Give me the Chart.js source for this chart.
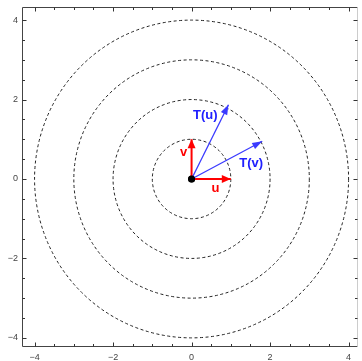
<!DOCTYPE html>
<html>
<head>
<meta charset="utf-8">
<script src="https://cdn.jsdelivr.net/npm/chart.js@4"></script>
<style>
  html, body { margin: 0; padding: 0; background: #fff; }
  #c { display: block; }
</style>
</head>
<body>
<canvas id="c" width="362" height="361"></canvas>
<script>
// circle radii (dashed level curves)
const radii = [1, 2, 3, 4];

// vectors from the origin
const vecNames = ["u", "v", "T(u)", "T(v)"];
const vecX = [1, 0, 0.94, 1.8];
const vecY = [0, 1, 1.87, 0.95];
const vecColors = ["#ff0000", "#ff0000", "#3a3aff", "#3a3aff"];

// where the vector names sit (data units)
const labelX = [0.61, -0.2, 0.35, 1.52];
const labelY = [-0.23, 0.68, 1.61, 0.4];

// axis ranges and tick labels
const xRange = [-4.32, 4.24];
const yRange = [-4.23, 4.33];
const majorTicks = [-4, -2, 0, 2, 4];

function tickLabel(v) {
  if (!majorTicks.includes(v)) return "";
  return v < 0 ? "\u2212" + Math.abs(v) : String(v);
}

const datasets = [];
// blue first, red on top
[2, 3, 0, 1].forEach(function (i) {
  datasets.push({
    label: vecNames[i],
    data: [{ x: 0, y: 0 }, { x: vecX[i], y: vecY[i] }],
    showLine: true,
    borderColor: vecColors[i],
    borderWidth: i < 2 ? 2 : 1.3,
    pointRadius: 0,
    vecIndex: i,
  });
});
datasets.push({
  label: "origin",
  data: [{ x: 0, y: 0 }],
  pointRadius: 3.5,
  pointBackgroundColor: "#000",
  pointBorderWidth: 0,
});

const extras = {
  id: "extras",
  beforeDatasetsDraw(chart) {
    const { ctx, chartArea, scales } = chart;
    const cx = scales.x.getPixelForValue(0);
    const cy = scales.y.getPixelForValue(0);
    ctx.save();
    ctx.beginPath();
    ctx.rect(chartArea.left, chartArea.top, chartArea.width, chartArea.height);
    ctx.clip();
    ctx.strokeStyle = "#222";
    ctx.lineWidth = 1;
    ctx.setLineDash([3, 2.5]);
    radii.forEach(function (r) {
      const rx = scales.x.getPixelForValue(r) - cx;
      const ry = cy - scales.y.getPixelForValue(r);
      ctx.beginPath();
      ctx.ellipse(cx, cy, rx, ry, 0, 0, Math.PI * 2);
      ctx.stroke();
    });
    ctx.restore();
  },
  afterDatasetsDraw(chart) {
    const { ctx, scales } = chart;
    const x0 = scales.x.getPixelForValue(0);
    const y0 = scales.y.getPixelForValue(0);
    ctx.save();
    vecNames.forEach(function (name, i) {
      const tx = scales.x.getPixelForValue(vecX[i]);
      const ty = scales.y.getPixelForValue(vecY[i]);
      const a = Math.atan2(ty - y0, tx - x0);
      const len = i < 2 ? 9 : 10;
      const hw = i < 2 ? 4 : 3.5;
      ctx.fillStyle = vecColors[i];
      ctx.beginPath();
      ctx.moveTo(tx, ty);
      ctx.lineTo(tx - len * Math.cos(a) + hw * Math.sin(a), ty - len * Math.sin(a) - hw * Math.cos(a));
      ctx.lineTo(tx - len * Math.cos(a) - hw * Math.sin(a), ty - len * Math.sin(a) + hw * Math.cos(a));
      ctx.closePath();
      ctx.fill();

      ctx.font = "bold 13px 'Liberation Sans', Arial, sans-serif";
      ctx.textAlign = "center";
      ctx.textBaseline = "middle";
      ctx.fillStyle = i < 2 ? "#ff0000" : "#2020ff";
      ctx.fillText(name, scales.x.getPixelForValue(labelX[i]), scales.y.getPixelForValue(labelY[i]));
    });
    // origin dot above arrows
    ctx.fillStyle = "#000";
    ctx.beginPath();
    ctx.arc(x0, y0, 3.5, 0, Math.PI * 2);
    ctx.fill();
    ctx.restore();
  },
  afterDraw(chart) {
    const { ctx, chartArea, scales } = chart;
    const l = chartArea.left + 0.5, r = chartArea.right - 0.5;
    const t = chartArea.top + 0.5, b = chartArea.bottom - 0.5;
    ctx.save();
    ctx.lineWidth = 1;
    ctx.strokeStyle = "#444";
    ctx.beginPath();
    ctx.moveTo(r, t); ctx.lineTo(l, t); ctx.lineTo(l, b); ctx.lineTo(r, b);
    ctx.stroke();
    ctx.strokeStyle = "#ccc";
    ctx.beginPath();
    ctx.moveTo(r, t); ctx.lineTo(r, b);
    ctx.stroke();

    ctx.strokeStyle = "#333";
    scales.x.ticks.forEach(function (tk) {
      const px = Math.round(scales.x.getPixelForValue(tk.value)) + 0.5;
      const n = majorTicks.includes(tk.value) ? 4 : 2.5;
      ctx.beginPath();
      ctx.moveTo(px, b); ctx.lineTo(px, b - n);
      ctx.moveTo(px, t); ctx.lineTo(px, t + n);
      ctx.stroke();
    });
    scales.y.ticks.forEach(function (tk) {
      const py = Math.round(scales.y.getPixelForValue(tk.value)) + 0.5;
      const n = majorTicks.includes(tk.value) ? 4 : 2.5;
      ctx.beginPath();
      ctx.moveTo(l, py); ctx.lineTo(l + n, py);
      ctx.moveTo(r, py); ctx.lineTo(r - n, py);
      ctx.stroke();
    });
    ctx.restore();
  },
};

const tickFont = { family: "'Liberation Sans', Arial, sans-serif", size: 9 };

new Chart(document.getElementById("c"), {
  type: "scatter",
  data: { datasets: datasets },
  options: {
    responsive: false,
    animation: false,
    events: [],
    layout: { padding: { left: 0, right: 1, top: 7, bottom: 0 } },
    plugins: { legend: { display: false }, tooltip: { enabled: false } },
    scales: {
      x: {
        type: "linear",
        min: xRange[0],
        max: xRange[1],
        grid: { display: false, drawTicks: false },
        border: { display: false },
        ticks: {
          stepSize: 0.5,
          includeBounds: false,
          autoSkip: false,
          maxRotation: 0,
          padding: 5,
          color: "#444",
          font: tickFont,
          callback: tickLabel,
        },
        afterFit(s) { s.height = 14; s.paddingLeft = 0; s.paddingRight = 0; },
      },
      y: {
        type: "linear",
        min: yRange[0],
        max: yRange[1],
        grid: { display: false, drawTicks: false },
        border: { display: false },
        ticks: {
          stepSize: 0.5,
          includeBounds: false,
          autoSkip: false,
          padding: 4,
          color: "#444",
          font: tickFont,
          callback: tickLabel,
        },
        afterFit(s) { s.width = 22; s.paddingTop = 0; s.paddingBottom = 0; },
      },
    },
  },
  plugins: [extras],
});
</script>
</body>
</html>
